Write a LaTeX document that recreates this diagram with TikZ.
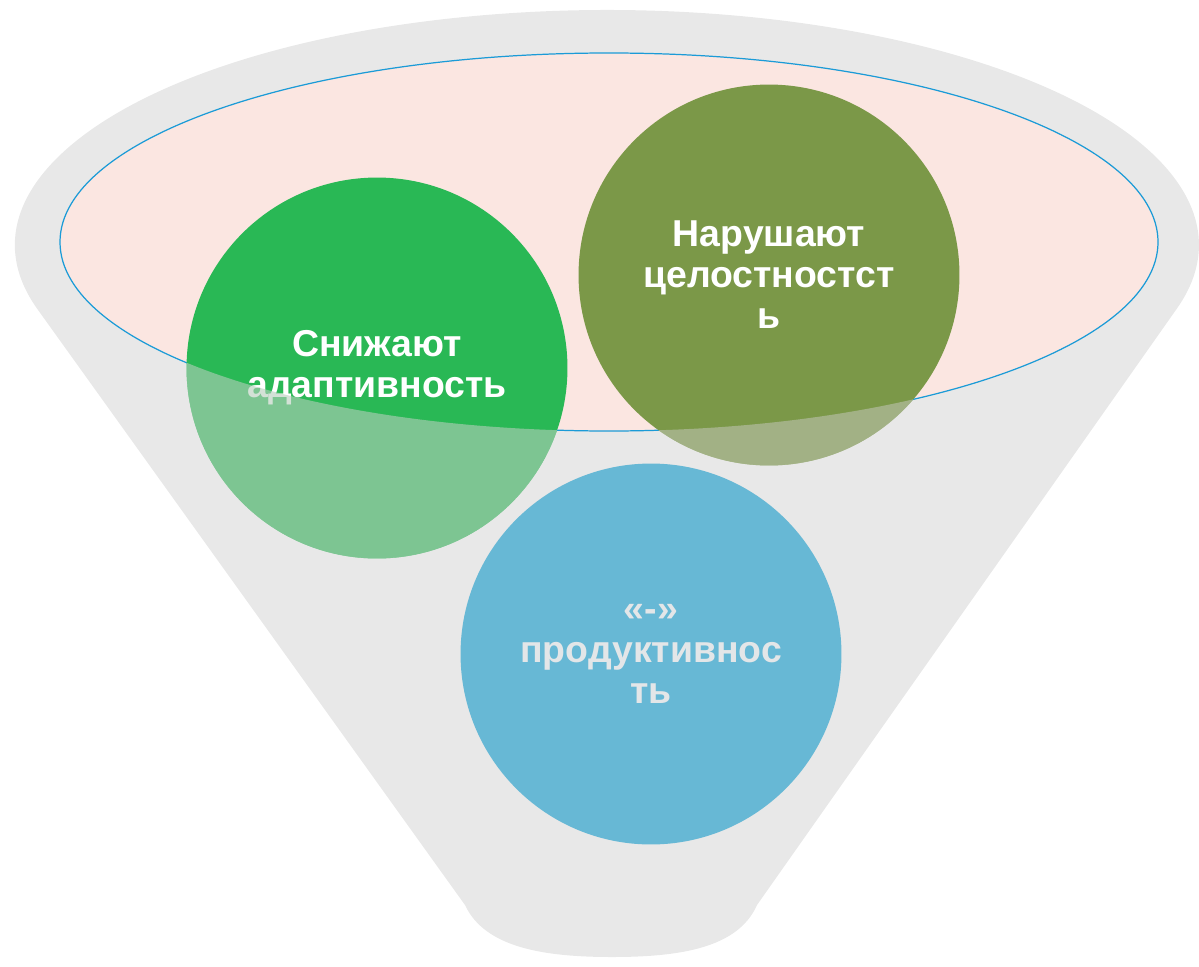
\documentclass[tikz,border=0pt]{standalone}
\usepackage{fontspec}
\setmainfont{Liberation Sans}

\definecolor{funnelgray}{HTML}{E8E8E8}
\definecolor{rimpink}{HTML}{FBE6E1}
\definecolor{rimblue}{HTML}{1B9BD7}
\definecolor{adaptgreen}{HTML}{29B855}
\definecolor{adaptpale}{HTML}{B6CEBC}
\definecolor{wholeolive}{HTML}{7B9848}
\definecolor{wholepale}{HTML}{BCC3AF}
\definecolor{prodblue}{HTML}{67B8D5}
\definecolor{prodtext}{HTML}{E3E6E8}

\begin{document}
\begin{tikzpicture}[x=0.02cm, y=-0.02cm,
    bubble/.style={circle, minimum size=7.62cm, inner sep=0pt, align=center,
      text=white, font=\fontsize{21.3}{23.3}\selectfont\bfseries}]
    \useasboundingbox (0,0) rectangle (1199,966);

    % воронка
    \fill[funnelgray] (37.4,309.1)
      arc[start angle=164.18, end angle=375.55, x radius=592, y radius=235]
      -- (757,905)
      .. controls (738,948) and (680,957) .. (612,957)
      .. controls (545,957) and (485,948) .. (465,905) -- cycle;

    % верхний край
    \filldraw[fill=rimpink, draw=rimblue, line width=0.7pt] (609,242) ellipse (549 and 189);

    % круги
    \node[bubble, fill=adaptgreen] (adapt) at (377,368) {Снижают\\адаптивность};
    \node[bubble, fill=wholeolive] (whole) at (769,275) {Нарушают\\целостностст\\ь};

    % часть кругов под краем воронки
    \begin{scope}
      \clip (60,242) arc[start angle=180, end angle=0, x radius=549, y radius=189]
        -- (1158,966) -- (60,966) -- cycle;
      \fill[adaptpale, opacity=0.6] (adapt.center) circle (190.5);
      \fill[wholepale, opacity=0.6] (whole.center) circle (190.5);
    \end{scope}

    \node[bubble, fill=prodblue, text=prodtext] (prod) at (651,654) {«-»\\продуктивнос\\ть};
\end{tikzpicture}
\end{document}
